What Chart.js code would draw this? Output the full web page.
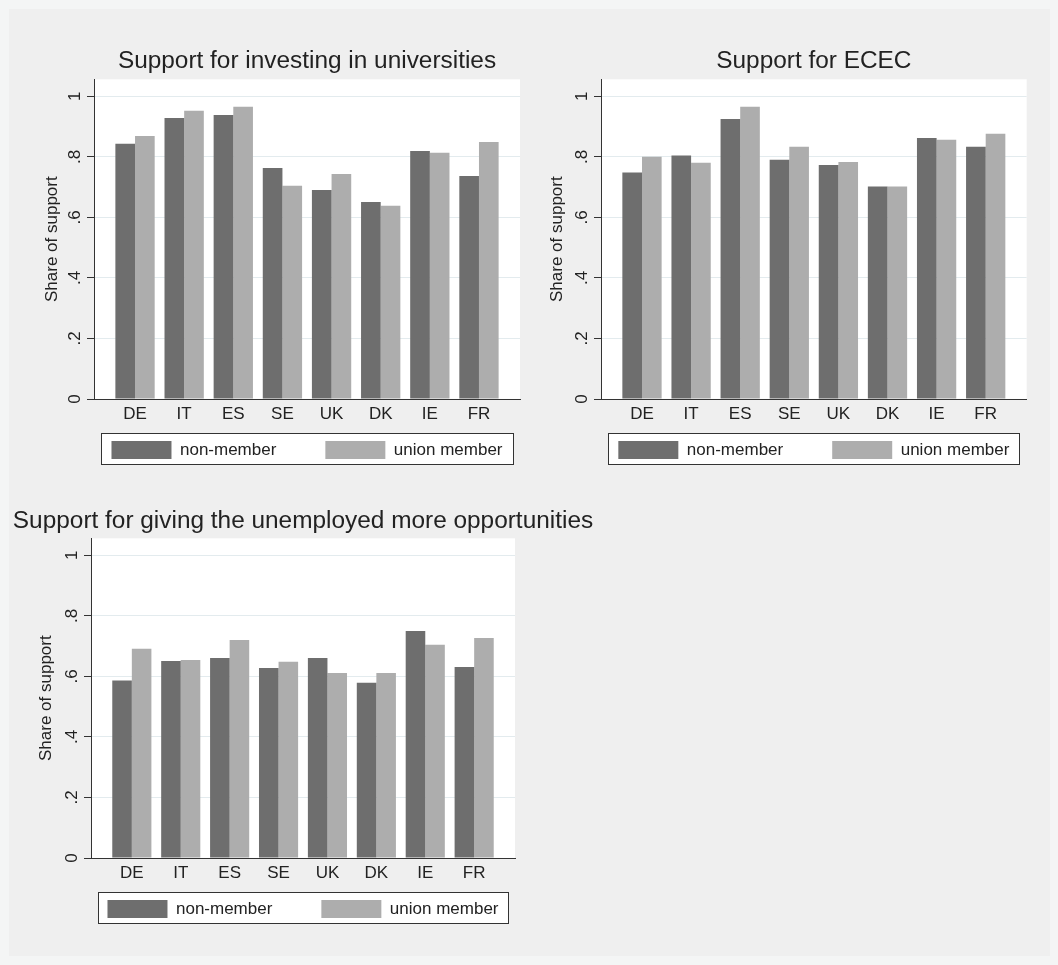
<!DOCTYPE html>
<html>
<head>
<meta charset="utf-8">
<title>Support by union membership</title>
<script src="https://cdn.jsdelivr.net/npm/chart.js@4.4.1/dist/chart.umd.min.js"></script>
<style>
  html, body { margin: 0; padding: 0; width: 1058px; height: 965px; overflow: hidden; background: #f4f5f5; }
  #panel { position: absolute; left: 9px; top: 9px; width: 1041px; height: 947px; background: #efefef; }
  canvas { position: absolute; }
</style>
</head>
<body>
<div id="panel"></div>
<canvas id="c1" width="520" height="475" style="left:10px;top:10px"></canvas>
<canvas id="c2" width="520" height="475" style="left:530px;top:10px"></canvas>
<canvas id="c3" width="620" height="470" style="left:10px;top:485px"></canvas>
<script>
// ---- data ----
const countries = ['DE', 'IT', 'ES', 'SE', 'UK', 'DK', 'IE', 'FR'];
const groupLabels = ['non-member', 'union member'];

const universitiesNonMember = [0.843, 0.928, 0.938, 0.763, 0.690, 0.651, 0.819, 0.737];
const universitiesMember    = [0.869, 0.952, 0.965, 0.704, 0.743, 0.638, 0.813, 0.849];

const ececNonMember = [0.748, 0.804, 0.925, 0.790, 0.773, 0.702, 0.862, 0.833];
const ececMember    = [0.800, 0.780, 0.965, 0.833, 0.783, 0.702, 0.856, 0.876];

const unemployedNonMember = [0.586, 0.651, 0.661, 0.628, 0.661, 0.579, 0.750, 0.631];
const unemployedMember    = [0.691, 0.654, 0.720, 0.648, 0.611, 0.611, 0.704, 0.727];

const yTickValues = [0, 0.2, 0.4, 0.6, 0.8, 1];
const yTickLabels = ['0', '.2', '.4', '.6', '.8', '1'];
const yAxisTitle = 'Share of support';

// ---- styling ----
const FONT = '"Liberation Sans", Arial, Helvetica, sans-serif';
const TEXT = '#222222';
const AXIS = '#333333';
const GRID = '#e3ebee';
const DARK = '#6e6e6e';
const LIGHT = '#adadad';
const TITLE_SIZE = 24.4;
const LABEL_SIZE = 17;
const LEGEND_GAP = 49;
const LEGEND_BOX_H = 30;
const X_AXIS_H = 28;
const Y_MAX = 1.056;
const X_PAD = 0.835;

Chart.defaults.font.family = FONT;
Chart.defaults.color = TEXT;

// white plot region, boxed legend, title and legend centred on the plot
const framePlugin = {
  id: 'frame',
  afterLayout(chart, args, o) {
    const a = chart.chartArea;
    const mid = (a.left + a.right) / 2;
    const t = chart.titleBlock;
    if (t) { t.left = mid - 600; t.right = mid + 600; t.width = 1200; }
    const lg = chart.legend;
    if (lg) {
      const p = lg.options.labels.padding;
      lg.left = mid - 300; lg.right = mid + 300; lg.width = 600;
      const top = a.bottom + o.swatchTop - p;
      lg.top = top; lg.bottom = top + p + 40; lg.height = p + 40;
    }
  },
  beforeDraw(chart, args, o) {
    const { ctx, chartArea: a } = chart;
    ctx.save();
    ctx.fillStyle = '#ffffff';
    ctx.fillRect(a.left, a.top, a.right - a.left, a.bottom - a.top);
    const x0 = Math.round(a.left + o.inset) + 0.5;
    const x1 = Math.round(a.right - o.inset) - 0.5;
    const y0 = Math.round(a.bottom + o.boxTop) + 0.5;
    const y1 = Math.round(a.bottom + o.boxBottom) - 0.5;
    ctx.fillRect(x0, y0, x1 - x0, y1 - y0);
    ctx.strokeStyle = AXIS;
    ctx.lineWidth = 1;
    ctx.strokeRect(x0, y0, x1 - x0, y1 - y0);
    ctx.restore();
  }
};

function buildPanel(p) {
  const canvas = document.getElementById(p.id);
  const W = canvas.width, H = canvas.height;
  const plotL = p.plot.l - p.x, plotR = p.plot.r - p.x;
  const plotT = p.plot.t - p.y, plotB = p.plot.b - p.y;

  const yWidth = plotL;                                  // left axis box fills up to plot
  const yTitlePad = yWidth - p.yTitleOffset - LABEL_SIZE * 1.2 / 2;
  const titleLine = TITLE_SIZE * 1.2;
  const titlePadBottom = p.titleGap - titleLine / 2;
  const titlePadTop = plotT - titleLine - titlePadBottom;
  const padBottom = Math.max(0, H - plotB - X_AXIS_H - LEGEND_BOX_H);

  return new Chart(canvas, {
    type: 'bar',
    data: {
      datasets: [
        { label: groupLabels[0], data: p.non.map((v, i) => ({ x: i, y: v })), backgroundColor: DARK, borderWidth: 0 },
        { label: groupLabels[1], data: p.mem.map((v, i) => ({ x: i, y: v })), backgroundColor: LIGHT, borderWidth: 0 }
      ]
    },
    options: {
      responsive: false,
      animation: false,
      devicePixelRatio: 1,
      events: [],
      layout: { padding: { left: 0, right: W - plotR, top: 0, bottom: padBottom } },
      datasets: { bar: { barPercentage: 1, categoryPercentage: 0.8 } },
      scales: {
        x: {
          type: 'linear',
          offset: false,
          min: -X_PAD,
          max: countries.length - 1 + X_PAD,
          afterBuildTicks: s => { s.ticks = countries.map((c, i) => ({ value: i })); },
          afterFit: s => { s.height = X_AXIS_H; },
          ticks: {
            callback: v => countries[v],
            autoSkip: false, maxRotation: 0, minRotation: 0,
            padding: 5,
            font: { size: LABEL_SIZE }, color: TEXT
          },
          grid: { display: false, drawTicks: false, offset: false },
          border: { display: true, color: AXIS, width: 1 }
        },
        y: {
          min: 0,
          max: Y_MAX,
          afterBuildTicks: s => { s.ticks = yTickValues.map(v => ({ value: v })); },
          afterFit: s => { s.width = yWidth; },
          ticks: {
            callback: v => yTickLabels[yTickValues.indexOf(v)],
            minRotation: 90, maxRotation: 90,
            crossAlign: 'center',
            padding: 5,
            font: { size: LABEL_SIZE }, color: TEXT
          },
          grid: { color: GRID, lineWidth: 1, drawTicks: true, tickLength: 7, tickColor: AXIS, tickWidth: 1 },
          border: { display: true, color: AXIS, width: 1 },
          title: {
            display: true, text: yAxisTitle, color: TEXT,
            font: { size: LABEL_SIZE },
            padding: { top: yTitlePad, bottom: 0 }
          }
        }
      },
      plugins: {
        title: {
          display: true, text: p.title, color: TEXT, fullSize: true,
          font: { size: TITLE_SIZE, weight: 'normal' },
          padding: { top: titlePadTop, bottom: titlePadBottom }
        },
        legend: {
          display: true, position: 'bottom', fullSize: true,
          maxHeight: LEGEND_BOX_H,
          labels: { boxWidth: 60, boxHeight: 18, padding: LEGEND_GAP, color: TEXT, font: { size: LABEL_SIZE } }
        },
        tooltip: { enabled: false },
        frame: { inset: 6.5, boxTop: 34, boxBottom: 66, swatchTop: 42 }
      }
    },
    plugins: [framePlugin]
  });
}

buildPanel({
  id: 'c1', x: 10, y: 10,
  plot: { l: 94, r: 520, t: 79.3, b: 399 },
  yTitleOffset: 42, titleGap: 18,
  title: 'Support for investing in universities',
  non: universitiesNonMember, mem: universitiesMember
});
buildPanel({
  id: 'c2', x: 530, y: 10,
  plot: { l: 601, r: 1026.7, t: 79.3, b: 399 },
  yTitleOffset: 44, titleGap: 18,
  title: 'Support for ECEC',
  non: ececNonMember, mem: ececMember
});
buildPanel({
  id: 'c3', x: 10, y: 485,
  plot: { l: 91, r: 515, t: 538.3, b: 858 },
  yTitleOffset: 45, titleGap: 17,
  title: 'Support for giving the unemployed more opportunities',
  non: unemployedNonMember, mem: unemployedMember
});
</script>
</body>
</html>
